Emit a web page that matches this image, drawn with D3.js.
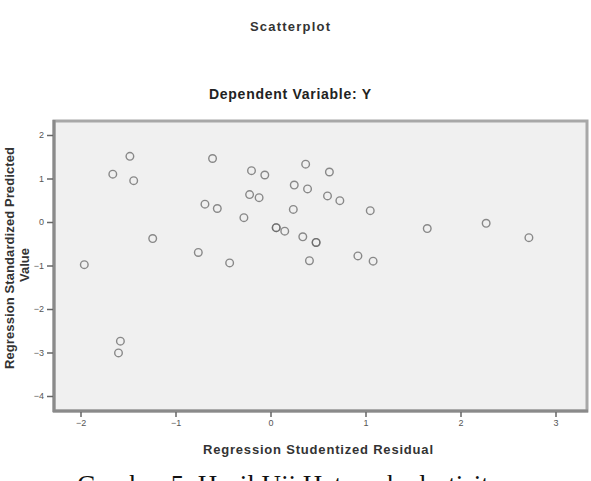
<!DOCTYPE html>
<html><head><meta charset="utf-8">
<script src="https://cdn.jsdelivr.net/npm/d3@7"></script>
<style>body{margin:0;background:#fff}svg{display:block}</style>
</head><body>
<svg id="c" width="591" height="481"></svg>
<script>
// Regression Studentized Residual (x) and Regression Standardized Predicted Value (y)
const residuals = [-1.48,-0.61,-1.66,-1.44,-0.20,-0.06,0.37,0.62,0.25,0.39,-0.22,-0.12,0.60,0.73,1.05,-0.69,-0.56,-0.28,0.24,0.06,0.06,0.15,0.34,0.48,0.48,-1.24,-0.76,-0.43,0.41,-1.96,1.65,2.27,2.72,0.92,1.08,-1.58,-1.60];
const predicted = [1.51,1.46,1.10,0.95,1.18,1.08,1.33,1.15,0.85,0.76,0.63,0.56,0.60,0.49,0.26,0.41,0.31,0.10,0.29,-0.13,-0.13,-0.21,-0.34,-0.47,-0.47,-0.38,-0.70,-0.94,-0.89,-0.98,-0.15,-0.03,-0.36,-0.78,-0.90,-2.74,-3.01];
const xTicks = [-2,-1,0,1,2,3];
const yTicks = [2,1,0,-1,-2,-3,-4];
const chartTitle = "Scatterplot";
const subTitle = "Dependent Variable: Y";
const xLabel = "Regression Studentized Residual";
const yLabel = ["Regression Standardized Predicted", "Value"];
const caption = "Gambar 5. Hasil Uji Heteroskedastisitas";

const svg = d3.select("#c");
const frame = {l:54, r:587, t:121, b:411};
const x = d3.scaleLinear().domain([-2,3]).range([80.5,555.5]);
const y = d3.scaleLinear().domain([-4,2]).range([396,135]);

svg.append("rect").attr("x",frame.l).attr("y",frame.t)
  .attr("width",frame.r-frame.l).attr("height",frame.b-frame.t)
  .attr("fill","#f0f0f0").attr("stroke","#a8a8a8").attr("stroke-width",3);
// darker axis lines
svg.append("line").attr("x1",frame.l).attr("x2",frame.l).attr("y1",frame.t-1).attr("y2",frame.b+1)
  .attr("stroke","#8a8a8a").attr("stroke-width",3);
svg.append("line").attr("x1",frame.l-1).attr("x2",frame.r+1).attr("y1",frame.b).attr("y2",frame.b)
  .attr("stroke","#8a8a8a").attr("stroke-width",3);

const xAxis = d3.axisBottom(x).tickValues(xTicks).tickSize(5).tickPadding(3).tickFormat(d3.format("d"));
const gx = svg.append("g").attr("transform",`translate(0,${frame.b+1})`).call(xAxis);
gx.select(".domain").remove();
gx.selectAll(".tick line").attr("stroke","#666").attr("stroke-width",1.5);
gx.selectAll(".tick text").attr("fill","#555").attr("font-family","Liberation Sans, Arial, sans-serif").attr("font-size",9);

const yAxis = d3.axisLeft(y).tickValues(yTicks).tickSize(6).tickPadding(3).tickFormat(d3.format("d"));
const gy = svg.append("g").attr("transform",`translate(${frame.l-1},0)`).call(yAxis);
gy.select(".domain").remove();
gy.selectAll(".tick line").attr("stroke","#666").attr("stroke-width",1.5);
gy.selectAll(".tick text").attr("fill","#555").attr("font-family","Liberation Sans, Arial, sans-serif").attr("font-size",9);

const pts = residuals.map((r,i)=>({x:r,y:predicted[i]}));
svg.append("g").selectAll("circle").data(pts).join("circle")
  .attr("cx",d=>x(d.x)).attr("cy",d=>y(d.y)).attr("r",3.8)
  .attr("fill","none").attr("stroke","#666").attr("stroke-opacity",0.75).attr("stroke-width",1.4);

const sans = "Liberation Sans, Arial, sans-serif";
svg.append("text").attr("x",290).attr("y",31).attr("text-anchor","middle")
  .attr("font-family",sans).attr("font-weight","bold").attr("font-size",13).attr("fill","#333")
  .attr("textLength",80).text(chartTitle);
svg.append("text").attr("x",290).attr("y",99).attr("text-anchor","middle")
  .attr("font-family",sans).attr("font-weight","bold").attr("font-size",14).attr("fill","#222")
  .attr("textLength",162).text(subTitle);
svg.append("text").attr("x",318).attr("y",454).attr("text-anchor","middle")
  .attr("font-family",sans).attr("font-weight","bold").attr("font-size",13).attr("fill","#333")
  .attr("textLength",230).text(xLabel);
const yl = svg.append("g").attr("transform","translate(14,258) rotate(-90)");
yl.append("text").attr("x",0).attr("y",0).attr("text-anchor","middle")
  .attr("font-family",sans).attr("font-weight","bold").attr("font-size",13).attr("fill","#333")
  .attr("textLength",222).text(yLabel[0]);
yl.append("text").attr("x",-7).attr("y",15).attr("text-anchor","middle")
  .attr("font-family",sans).attr("font-weight","bold").attr("font-size",13).attr("fill","#333")
  .text(yLabel[1]);

svg.append("text").attr("x",77).attr("y",494)
  .attr("font-family","Liberation Serif, Times New Roman, serif").attr("font-size",27).attr("fill","#111")
  .text(caption);
</script>
</body></html>
